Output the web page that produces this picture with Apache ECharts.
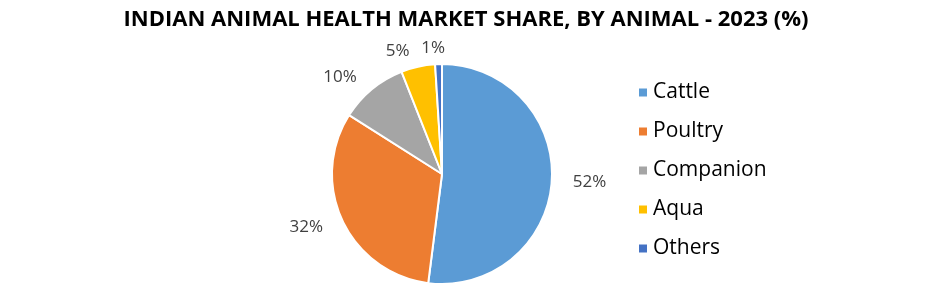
<!DOCTYPE html>
<html><head><meta charset="utf-8">
<script src="https://cdn.jsdelivr.net/npm/echarts@6/dist/echarts.min.js"></script>
<style>html,body{margin:0;padding:0;background:#fff}#c{width:932px;height:286px}</style>
</head><body><div id="c"></div>
<script>
const titleText = 'INDIAN ANIMAL HEALTH MARKET SHARE, BY ANIMAL - 2023 (%)';
const categories = ['Cattle', 'Poultry', 'Companion', 'Aqua', 'Others'];
const shares = [52, 32, 10, 5, 1];
const colors = ['#5B9BD5', '#ED7D31', '#A5A5A5', '#FFC000', '#4472C4'];

const chart = echarts.init(document.getElementById('c'), null, {renderer: 'canvas'});
chart.setOption({
  animation: false,
  title: {
    text: titleText, left: 'center', top: 4,
    textStyle: {fontFamily: 'Open Sans', fontWeight: 'bold', fontSize: 22, color: '#000'}
  },
  legend: {
    orient: 'vertical', left: 632, top: 77,
    icon: 'rect', itemWidth: 10, itemHeight: 10, itemGap: 18,
    data: categories,
    textStyle: {fontFamily: 'Open Sans', fontSize: 21, color: '#000', lineHeight: 20}
  },
  series: [{
    type: 'pie',
    center: [442, 174], radius: 110,
    startAngle: 90, clockwise: true,
    avoidLabelOverlap: false,
    minShowLabelAngle: 0,
    itemStyle: {borderColor: '#fff', borderWidth: 2},
    label: {show: true, position: 'outside', formatter: '{c}%', fontFamily: 'Open Sans', fontSize: 17, color: '#404040'},
    labelLine: {show: false, length: 16, length2: 0},
    labelLayout: function (p) {
      // the thin slice at the top gets its label centred over it
      return p.dataIndex === shares.length - 1
        ? {hideOverlap: false, align: 'center'}
        : {hideOverlap: false};
    },
    emphasis: {disabled: true},
    data: categories.map((n, i) => ({name: n, value: shares[i], itemStyle: {color: colors[i]}}))
  }]
});
</script></body></html>
